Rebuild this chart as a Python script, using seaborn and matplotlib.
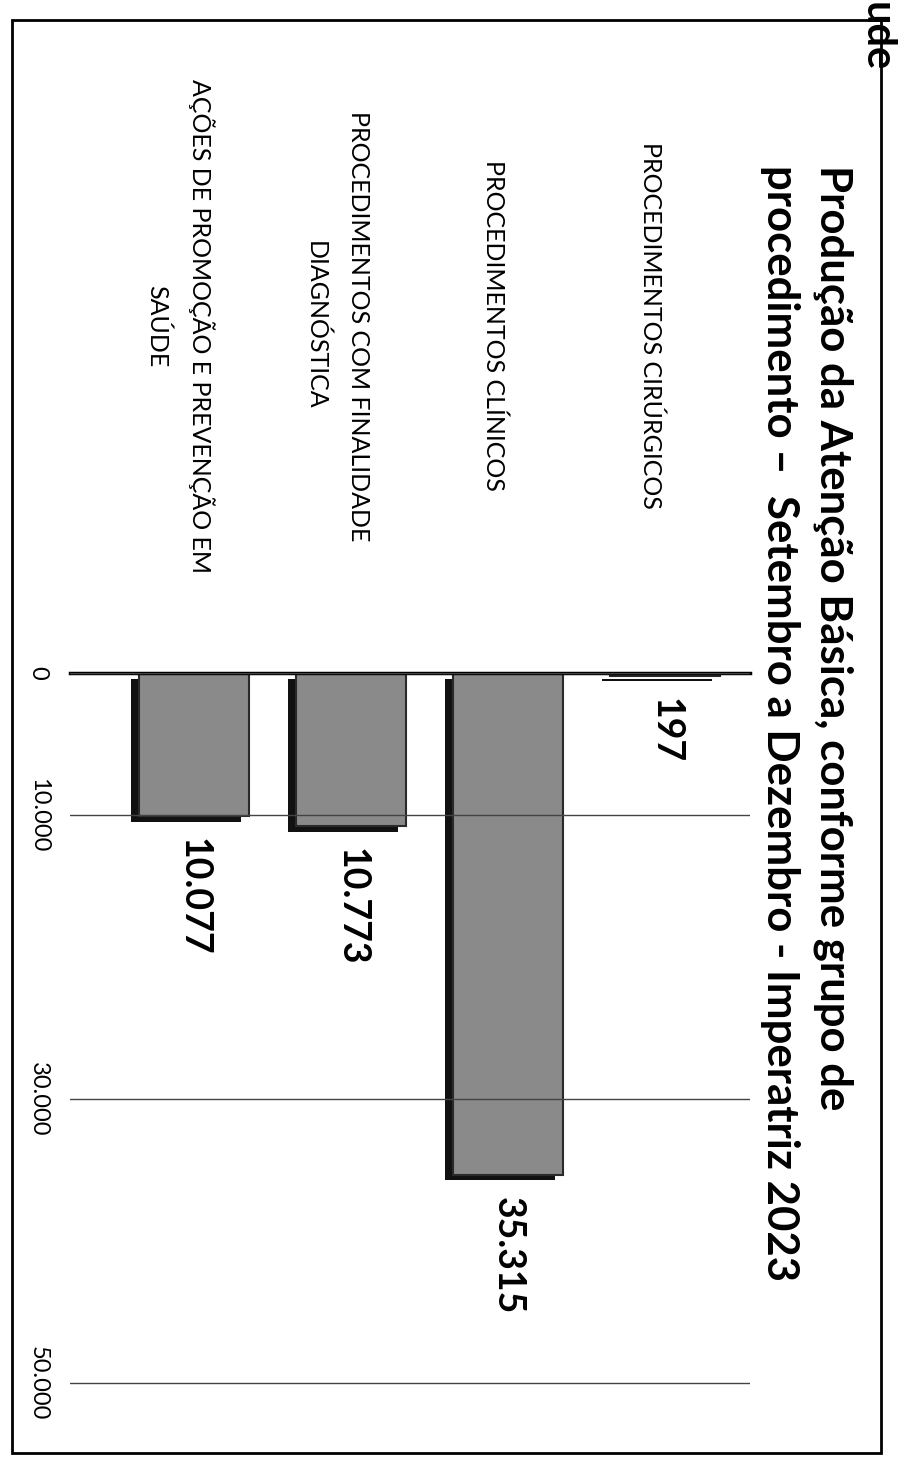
import matplotlib
matplotlib.use('Agg')
import matplotlib.pyplot as plt
import matplotlib.patheffects as pe
from matplotlib.patches import Rectangle
from matplotlib.transforms import ScaledTranslation
import seaborn as sns
import pandas as pd

# dados (ordem do gráfico original)
categorias = ['PROCEDIMENTOS CIRÚRGICOS',
              'PROCEDIMENTOS CLÍNICOS',
              'PROCEDIMENTOS COM FINALIDADE\nDIAGNÓSTICA',
              'AÇÕES DE PROMOÇÃO E PREVENÇÃO EM\nSAÚDE']
valores = [197, 35315, 10773, 10077]
ticks_valor = [0, 10000, 30000, 50000]
ticks_rotulos = ['0', '10.000', '30.000', '50.000']
titulo = ('Produção da Atenção Básica, conforme grupo de\n'
          'procedimento –  Setembro a Dezembro - Imperatriz 2023')

sns.set_style('white')
plt.rcParams['font.family'] = ['Lato', 'DejaVu Sans']
plt.rcParams['text.color'] = 'black'
plt.rcParams['xtick.color'] = 'black'
plt.rcParams['ytick.color'] = 'black'

df = pd.DataFrame({'cat': categorias, 'valor': valores})
ordem = categorias[::-1]

fig = plt.figure(figsize=(8.98, 14.61), dpi=100)
W, H = 898, 1461
# eixo "deitado": categorias no x, valores crescendo para baixo
ax = fig.add_axes([70 / W, 21 / H, 680 / W, (1440 - 673) / H])

sns.barplot(data=df, x='cat', y='valor', order=ordem, color='#8a8a8a',
            saturation=1, edgecolor='#2a2a2a', linewidth=1.5, width=0.7, ax=ax)
for p in ax.patches:
    p.set_path_effects([pe.SimplePatchShadow(offset=(-6, -4), shadow_rgbFace='#111111', alpha=1),
                        pe.Normal()])

ax.set_ylim(54000, 0)
ax.set_xlim(-0.79, 3.54)

rot = [f'{v:,}'.replace(',', '.') for v in df.set_index('cat').loc[ordem, 'valor']]
ax.bar_label(ax.containers[0], labels=rot, padding=16, rotation=-90,
             fontsize=27, fontweight='bold', color='black')

ax.xaxis.tick_top()
ax.set_xticks(range(len(ordem)))
ax.set_xticklabels(ordem, rotation=-90, ha='center', va='center',
                   multialignment='center', fontsize=18, linespacing=2.0)
ax.tick_params(axis='x', length=0, pad=250, labelcolor='black')

ax.set_yticks(ticks_valor, ticks_rotulos, rotation=-90, ha='center', va='center', fontsize=17)
ax.tick_params(axis='y', length=0, pad=23, labelcolor='black')
ax.set_xlabel('')
ax.set_ylabel('')

# rótulos das categorias um pouco à esquerda das barras, como no original
desloc = ScaledTranslation(-14 / 100, 0, fig.dpi_scale_trans)
for t in ax.xaxis.get_major_ticks():
    t.label2.set_transform(t.label2.get_transform() + desloc)

ax.grid(axis='y', color='#444444', lw=1)
ax.set_axisbelow(False)
for s in ['left', 'right', 'bottom']:
    ax.spines[s].set_visible(False)
ax.spines['top'].set_linewidth(2.5)
ax.spines['top'].set_color('black')

fig.text(807 / W, 1 - 165 / H, titulo, rotation=-90, ha='center', va='top',
         fontsize=31.5, fontweight='bold', multialignment='left', linespacing=1.4,
         color='black')
fig.text(896 / W, 1 - 2 / H, 'ude', rotation=-90, ha='right', va='top',
         fontsize=30, fontweight='bold', color='black')

fig.patches.append(Rectangle((12 / W, 8 / H), (881 - 12) / W, (1453 - 20) / H,
                             transform=fig.transFigure, fill=False, ec='black', lw=2))

fig.savefig('out.png', dpi=100)
